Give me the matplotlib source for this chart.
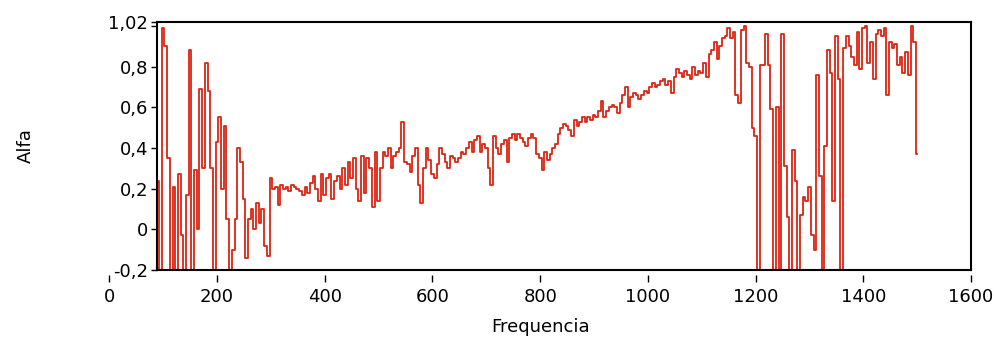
import matplotlib
matplotlib.use("Agg")
import matplotlib.pyplot as plt
import numpy as np

# absorption coefficient, one value every 5 Hz from 90 Hz
alfa_90_315 = [0.24, -0.3, 0.99, 0.9, 0.35, -0.3, 0.21, -0.3, 0.27, -0.03,
               -0.3, 0.17, 0.88, -0.3, 0.29, 0.0, 0.69, 0.3, 0.82, 0.68,
               0.3, -0.3, 0.43, 0.55, 0.2, 0.51, 0.05, -0.3, -0.1, 0.05,
               0.4, 0.33, 0.15, -0.14, 0.05, 0.1, 0.0, 0.13, 0.03, 0.1,
               -0.08, -0.13, 0.25, 0.2, 0.21, 0.12]
alfa_320_545 = [0.22, 0.2, 0.21, 0.19, 0.22, 0.21, 0.2, 0.19, 0.17, 0.21,
                0.18, 0.23, 0.26, 0.2, 0.14, 0.27, 0.17, 0.25, 0.27, 0.15,
                0.24, 0.26, 0.2, 0.3, 0.22, 0.33, 0.25, 0.35, 0.2, 0.14,
                0.36, 0.18, 0.35, 0.3, 0.11, 0.38, 0.14, 0.3, 0.38, 0.36,
                0.4, 0.3, 0.36, 0.38, 0.4, 0.53]
alfa_550_780 = [0.33, 0.32, 0.28, 0.36, 0.4, 0.22, 0.13, 0.3, 0.4, 0.34,
                0.27, 0.25, 0.32, 0.4, 0.37, 0.33, 0.3, 0.36, 0.35, 0.33,
                0.35, 0.38, 0.37, 0.4, 0.43, 0.38, 0.44, 0.46, 0.38, 0.42,
                0.4, 0.3, 0.22, 0.46, 0.4, 0.37, 0.42, 0.44, 0.33, 0.45,
                0.47, 0.44, 0.47, 0.45, 0.43, 0.41, 0.45]
alfa_785_1010 = [0.47, 0.45, 0.37, 0.35, 0.29, 0.38, 0.34, 0.37, 0.4, 0.42,
                 0.47, 0.5, 0.52, 0.51, 0.49, 0.46, 0.54, 0.51, 0.53, 0.55,
                 0.53, 0.55, 0.54, 0.56, 0.55, 0.58, 0.63, 0.55, 0.58, 0.6,
                 0.61, 0.6, 0.57, 0.62, 0.66, 0.7, 0.6, 0.65, 0.67, 0.66,
                 0.64, 0.66, 0.68, 0.67, 0.7, 0.72]
alfa_1015_1195 = [0.7, 0.71, 0.73, 0.74, 0.71, 0.73, 0.67, 0.75, 0.79, 0.77,
                  0.75, 0.78, 0.76, 0.74, 0.8, 0.76, 0.78, 0.77, 0.82, 0.75,
                  0.86, 0.88, 0.92, 0.84, 0.9, 0.94, 0.95, 0.99, 0.94, 0.97,
                  0.66, 0.62, 0.98, 1.0, 0.82, 0.8, 0.5]
alfa_1200_1500 = [0.46, -0.3, 0.81, 0.81, 0.96, 0.81, 0.59, -0.3, 0.6, -0.3,
                  0.96, 0.31, 0.06, -0.3, 0.39, 0.24, -0.3, 0.07, 0.16, 0.14,
                  0.21, -0.03, -0.1, 0.76, 0.26, -0.3, 0.41, 0.88, 0.77, 0.14,
                  0.95, 0.74, -0.3, 0.89, 0.95, 0.9, 0.85, 0.81, 0.97, 0.79,
                  0.99, 1.0, 0.82, 0.92, 0.74, 0.96, 0.98, 0.95, 0.99, 0.66,
                  0.92, 0.89, 0.91, 0.81, 0.85, 0.77, 0.87, 0.76, 1.0, 0.92,
                  0.37]

alfa = np.concatenate([alfa_90_315, alfa_320_545, alfa_550_780,
                       alfa_785_1010, alfa_1015_1195, alfa_1200_1500])
freq = np.arange(90, 90 + 5 * len(alfa), 5)

x_ticks = [0, 200, 400, 600, 800, 1000, 1200, 1400, 1600]
y_ticks = [-0.2, 0, 0.2, 0.4, 0.6, 0.8, 1.0, 1.02]
y_labels = ["-0,2", "0", "0,2", "0,4", "0,6", "0,8", "", "1,02"]

x_lo, x_hi = 89, 1600
fs = 13

fig = plt.figure(figsize=(9.95, 3.43), dpi=100)
pos = [0.158, 0.213, 0.818, 0.723]
ax = fig.add_axes(pos)

ax.plot(freq, alfa, color="#dc2414", lw=1.3, drawstyle="steps-mid")

ax.set_xlim(x_lo, x_hi)
ax.set_ylim(-0.2, 1.02)
ax.set_yticks(y_ticks)
ax.set_yticklabels(y_labels, fontsize=fs)
ax.tick_params(axis="y", direction="out", length=4.5, width=1, pad=2)
ax.tick_params(axis="x", bottom=False, labelbottom=False)
for s in ax.spines.values():
    s.set_linewidth(1.5)
ax.set_ylabel("Alfa", fontsize=fs, labelpad=53)

# separate tick strip for x (LabVIEW style: ticks sit below the frame, "0" outside)
scale = pos[2] / (x_hi - x_lo)
axt = fig.add_axes([pos[0] - x_lo * scale, pos[1] - 0.015, x_hi * scale, 1e-4])
axt.set_xlim(0, 1600)
axt.patch.set_visible(False)
for s in axt.spines.values():
    s.set_visible(False)
axt.set_yticks([])
axt.set_xticks(x_ticks)
axt.set_xticklabels([str(t) for t in x_ticks], fontsize=fs)
axt.tick_params(axis="x", direction="out", length=5, width=1, pad=4)
axt.set_xlabel("Frequencia", fontsize=fs, labelpad=9)

fig.savefig("out.png", dpi=100)
